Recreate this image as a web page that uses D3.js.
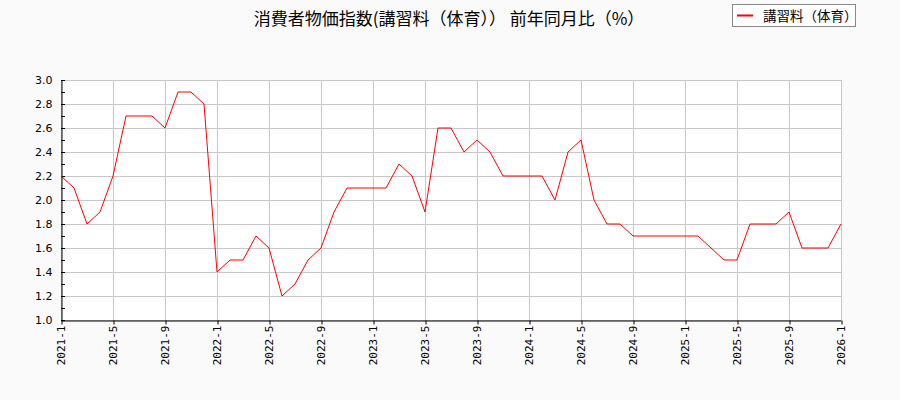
<!DOCTYPE html>
<html>
<head>
<meta charset="utf-8">
<script src="https://cdn.jsdelivr.net/npm/d3@7"></script>
<style>
  body { margin: 0; background: #fafafa; }
  svg { display: block; font-family: "DejaVu Sans", "Noto Sans CJK JP", sans-serif; }
</style>
</head>
<body>
<svg id="chart" width="900" height="400"></svg>
<script>
// months 2021-1 .. 2026-1
let months = [];
for (let yr = 2021; yr <= 2026; yr++) {
  for (let m = 1; m <= 12; m++) {
    if (yr == 2026 && m > 1) break;
    months.push(yr + "-" + m);
  }
}
let values = [
  2.2, 2.1, 1.8, 1.9, 2.2, 2.7, 2.7, 2.7, 2.6, 2.9, 2.9, 2.8,
  1.4, 1.5, 1.5, 1.7, 1.6, 1.2, 1.3, 1.5, 1.6, 1.9, 2.1, 2.1,
  2.1, 2.1, 2.3, 2.2, 1.9, 2.6, 2.6, 2.4, 2.5, 2.4, 2.2, 2.2,
  2.2, 2.2, 2.0, 2.4, 2.5, 2.0, 1.8, 1.8, 1.7, 1.7, 1.7, 1.7,
  1.7, 1.7, 1.6, 1.5, 1.5, 1.8, 1.8, 1.8, 1.9, 1.6, 1.6, 1.6,
  1.8
];
let xTickLabels = ["2021-1","2021-5","2021-9","2022-1","2022-5","2022-9","2023-1","2023-5",
  "2023-9","2024-1","2024-5","2024-9","2025-1","2025-5","2025-9","2026-1"];
let yTicks = [1.0, 1.2, 1.4, 1.6, 1.8, 2.0, 2.2, 2.4, 2.6, 2.8, 3.0];
let yMinor = d3.range(10, 31).map(d => d / 10);
let title = "消費者物価指数(講習料（体育）） 前年同月比（%）";
let seriesName = "講習料（体育）";

let svg = d3.select("svg#chart");
let pLeft = 61, pRight = 841, pTop = 80, pBottom = 320;

let x = d3.scalePoint().domain(months).range([pLeft, pRight]);
let y = d3.scaleLinear().domain([1.0, 3.0]).range([pBottom, pTop]);

// plot background
svg.append("rect")
  .attr("x", pLeft).attr("y", pTop)
  .attr("width", pRight - pLeft).attr("height", pBottom - pTop)
  .attr("fill", "#fff");

// grid
svg.append("g").selectAll("line")
  .data(yTicks)
  .join("line")
  .attr("x1", pLeft).attr("x2", pRight)
  .attr("y1", d => y(d) + 0.5).attr("y2", d => y(d) + 0.5)
  .attr("stroke", "#c8c8c8");
svg.append("g").selectAll("line")
  .data(xTickLabels)
  .join("line")
  .attr("x1", d => x(d) + 0.5).attr("x2", d => x(d) + 0.5)
  .attr("y1", pTop).attr("y2", pBottom)
  .attr("stroke", "#c8c8c8");

// y axis
let yAxis = svg.append("g")
  .attr("transform", "translate(" + (pLeft + 0.5) + ",0)")
  .call(d3.axisLeft(y).tickValues(yTicks).tickFormat(d3.format(".1f")).tickSize(0).tickPadding(9));
yAxis.select(".domain").attr("stroke", "#000");
yAxis.selectAll("text").attr("font-size", 11).attr("fill", "#000")
  .attr("font-family", "DejaVu Sans");
svg.append("g").selectAll("line")
  .data(yMinor)
  .join("line")
  .attr("x1", pLeft).attr("x2", pLeft + 4)
  .attr("y1", d => y(d) + 0.5).attr("y2", d => y(d) + 0.5)
  .attr("stroke", "#000");

// x axis
let xAxis = svg.append("g")
  .attr("transform", "translate(0," + (pBottom + 0.5) + ")")
  .call(d3.axisBottom(x).tickValues(xTickLabels).tickSize(4).tickSizeOuter(0));
xAxis.select(".domain").attr("stroke", "#000");
xAxis.selectAll(".tick line").attr("stroke", "#000").attr("transform", "translate(0.5,0)");
xAxis.selectAll("text")
  .attr("font-size", 11).attr("fill", "#000")
  .attr("font-family", "DejaVu Sans Mono")
  .attr("transform", "rotate(-90)")
  .attr("text-anchor", "end")
  .attr("x", -5).attr("y", 0).attr("dy", "0.35em");

// line
let data = months.map((m, i) => ({ m: m, v: values[i] }));
svg.append("path")
  .datum(data)
  .attr("fill", "none")
  .attr("stroke", "#ff0000")
  .attr("stroke-width", 1)
  .attr("d", d3.line().x(d => x(d.m)).y(d => y(d.v)));

// title
svg.append("text")
  .attr("x", 449).attr("y", 25)
  .attr("text-anchor", "middle")
  .attr("font-size", 17)
  .attr("font-family", "Noto Sans CJK JP")
  .text(title);

// legend
let lg = svg.append("g");
lg.append("rect")
  .attr("x", 732.5).attr("y", 4.5).attr("width", 123).attr("height", 22)
  .attr("fill", "#fff").attr("stroke", "#888");
lg.append("line")
  .attr("x1", 737).attr("x2", 753).attr("y1", 15.5).attr("y2", 15.5)
  .attr("stroke", "#ff0000").attr("stroke-width", 2);
lg.append("text")
  .attr("x", 763).attr("y", 20.5)
  .attr("font-size", 13.5)
  .attr("font-family", "Noto Sans CJK JP")
  .text(seriesName);
</script>
</body>
</html>
